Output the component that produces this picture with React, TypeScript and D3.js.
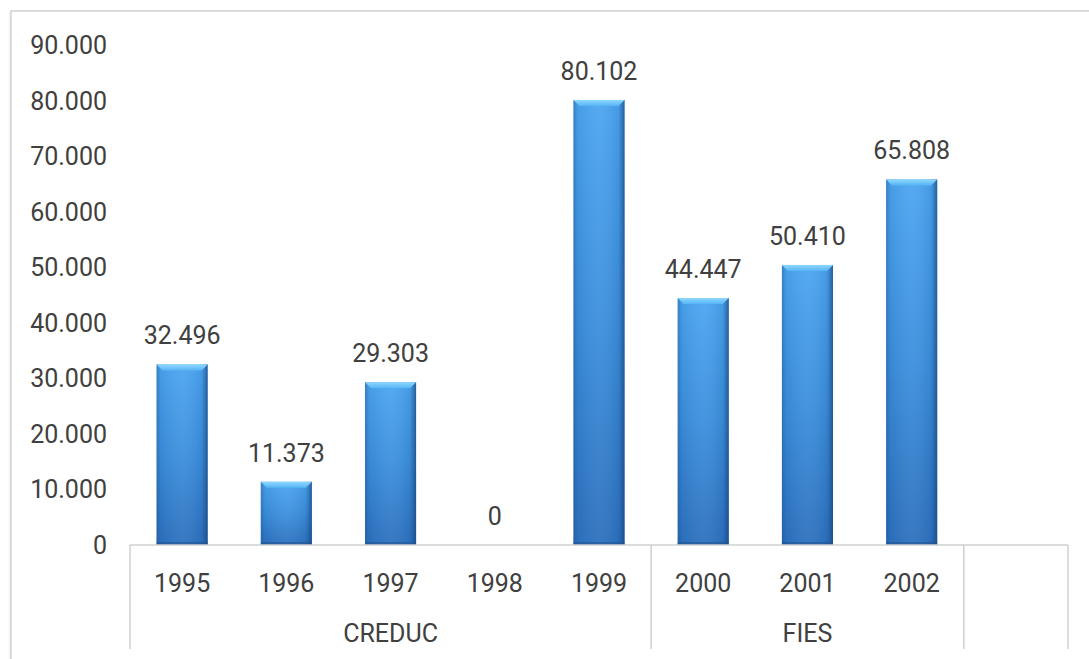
import React from "react";
import * as d3 from "d3";

// Yearly amounts, grouped by programme
const years = ["1995", "1996", "1997", "1998", "1999", "2000", "2001", "2002"];
const values = [32496, 11373, 29303, 0, 80102, 44447, 50410, 65808];
const groups = [
  { name: "CREDUC", start: 0, count: 5 },
  { name: "FIES", start: 5, count: 3 },
  { name: "", start: 8, count: 1 },
];
const yTicks = [0, 10000, 20000, 30000, 40000, 50000, 60000, 70000, 80000, 90000];

const W = 1089;
const H = 659;
const left = 130;
const right = 1068;
const top = 45;
const bottom = 545;
const slotCount = 9;

const locale = d3.formatLocale({ decimal: ",", thousands: ".", grouping: [3], currency: ["", ""] });
const fmt = locale.format(",d");

const FONT = "Roboto, 'Noto Sans', sans-serif";
const TEXT = "#404040";

export default function App() {
  const slots = d3.range(slotCount).map(String);
  const x = d3.scaleBand<string>().domain(slots).range([left, right]).paddingInner(0).paddingOuter(0);
  const y = d3.scaleLinear().domain([0, 90000]).range([bottom, top]);
  const bw = x.bandwidth() * 0.49;

  return (
    <svg
      width={W}
      height={H}
      style={{ position: "absolute", left: 0, top: 0, display: "block", background: "#fff" }}
      fontFamily={FONT}
    >
      <defs>
        <linearGradient id="barV" x1="0" y1="0" x2="0" y2="1">
          <stop offset="0" stopColor="#4aa5f0" />
          <stop offset="0.5" stopColor="#3a8edc" />
          <stop offset="1" stopColor="#2b6fbd" />
        </linearGradient>
        <linearGradient id="barH" x1="0" y1="0" x2="1" y2="0">
          <stop offset="0" stopColor="#1d4f8c" stopOpacity="0.45" />
          <stop offset="0.08" stopColor="#1d4f8c" stopOpacity="0.1" />
          <stop offset="0.5" stopColor="#ffffff" stopOpacity="0.06" />
          <stop offset="0.88" stopColor="#1d4f8c" stopOpacity="0.12" />
          <stop offset="1" stopColor="#163f73" stopOpacity="0.7" />
        </linearGradient>
        <linearGradient id="bevel" x1="0" y1="0" x2="0" y2="1">
          <stop offset="0" stopColor="#8fd8ff" />
          <stop offset="1" stopColor="#56b4f5" />
        </linearGradient>
        <filter id="frameShadow" x="-5%" y="-5%" width="110%" height="110%">
          <feDropShadow dx="0" dy="1" stdDeviation="1.2" floodColor="#000" floodOpacity="0.18" />
        </filter>
      </defs>

      {/* chart frame */}
      <rect x={11} y={11} width={W + 20} height={H + 20} fill="#fff" stroke="#d4d4d4" strokeWidth={1.5} filter="url(#frameShadow)" />

      {/* value axis labels */}
      {yTicks.map((t) => (
        <text key={t} x={107} y={y(t)} dy="0.36em" textAnchor="end" fontSize={25} fill={TEXT}>
          {fmt(t)}
        </text>
      ))}

      {/* bars */}
      {values.map((v, i) => {
        const cx = (x(String(i)) as number) + x.bandwidth() / 2;
        const x0 = cx - bw / 2;
        const y0 = y(v);
        const h = bottom - y0;
        if (h <= 0) return null;
        const bev = Math.min(6, h / 2);
        return (
          <g key={years[i]}>
            <rect x={x0} y={y0} width={bw} height={h} fill="url(#barV)" />
            <rect x={x0} y={y0} width={bw} height={h} fill="url(#barH)" />
            <polygon
              points={`${x0},${y0} ${x0 + bw},${y0} ${x0 + bw - bev},${y0 + bev} ${x0 + bev},${y0 + bev}`}
              fill="url(#bevel)"
            />
            <rect x={x0} y={bottom - 3} width={bw} height={3} fill="#1e4f8a" opacity={0.5} />
          </g>
        );
      })}

      {/* value labels */}
      {values.map((v, i) => {
        const cx = (x(String(i)) as number) + x.bandwidth() / 2;
        return (
          <text key={"l" + i} x={cx} y={y(v) - 20} textAnchor="middle" fontSize={25} fill={TEXT}>
            {fmt(v)}
          </text>
        );
      })}

      {/* category axis */}
      <line x1={left} x2={right} y1={bottom} y2={bottom} stroke="#d0d0d0" strokeWidth={1.5} />
      {[0, ...groups.map((g) => g.start + g.count)].map((k) => {
        const gx = k === slotCount ? right : (x(String(k)) as number);
        return <line key={"v" + k} x1={gx} x2={gx} y1={bottom} y2={649} stroke="#d0d0d0" strokeWidth={1.5} />;
      })}
      {years.map((yr, i) => (
        <text key={yr} x={(x(String(i)) as number) + x.bandwidth() / 2} y={592} textAnchor="middle" fontSize={25} fill={TEXT}>
          {yr}
        </text>
      ))}
      {groups.map((g) => {
        const gx0 = x(String(g.start)) as number;
        const gx1 = gx0 + x.bandwidth() * g.count;
        return (
          <text key={g.name + g.start} x={(gx0 + gx1) / 2} y={642} textAnchor="middle" fontSize={25} fill={TEXT}>
            {g.name}
          </text>
        );
      })}
    </svg>
  );
}
